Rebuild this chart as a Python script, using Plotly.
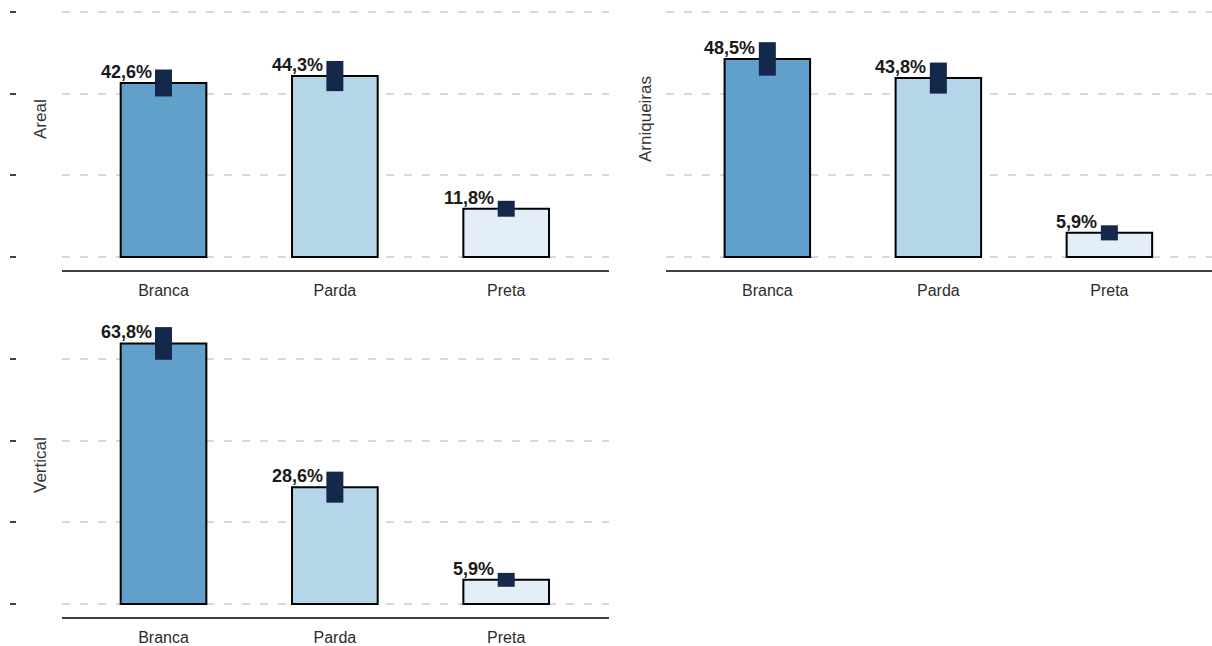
import plotly.graph_objects as go

categories = ["Branca", "Parda", "Preta"]
panels = ["Areal", "Arniqueiras", "Vertical"]
areal_values = [42.6, 44.3, 11.8]
areal_errors = [3.3, 3.7, 1.95]
arniqueiras_values = [48.5, 43.8, 5.9]
arniqueiras_errors = [4.1, 3.8, 1.85]
vertical_values = [63.8, 28.6, 5.9]
vertical_errors = [4.0, 3.8, 1.7]
y_tickvals = [0, 20, 40, 60]

bar_colors = ["#62a0cc", "#b5d6e9", "#e4eef8"]
err_color = "#14284b"
axis_color = "#4a3f35"
grid_color = "#d9d9d9"
FONT = "Liberation Sans, Arial, Helvetica, sans-serif"

W, H = 1212, 646

data = [
    (areal_values, areal_errors, "x", "y"),
    (arniqueiras_values, arniqueiras_errors, "x2", "y2"),
    (vertical_values, vertical_errors, "x3", "y3"),
]

fig = go.Figure()
annotations = []
for vals, errs, xa, ya in data:
    fig.add_trace(go.Bar(
        x=categories, y=vals, xaxis=xa, yaxis=ya, width=0.5,
        marker=dict(color=bar_colors, line=dict(color="#000000", width=2)),
        error_y=dict(type="data", array=errs, color=err_color, thickness=17, width=0, visible=True),
        showlegend=False, hoverinfo="skip",
    ))
    for c, v in zip(categories, vals):
        annotations.append(dict(
            x=c, y=v, xref=xa, yref=ya, xanchor="right", yanchor="bottom",
            xshift=-10, yshift=-1, showarrow=False,
            text=f"{v:.1f}".replace(".", ",") + "%",
            font=dict(family=FONT, size=18, color="#1a1a1a", weight="bold"),
        ))

title_pos = [(40, 119, "Areal"), (645, 119, "Arniqueiras"), (40, 465, "Vertical")]
for px, py, t in title_pos:
    annotations.append(dict(
        x=px / W, y=1 - py / H, xref="paper", yref="paper", text=t, textangle=-90,
        showarrow=False, xanchor="center", yanchor="middle",
        font=dict(family=FONT, size=17, color="#333333"),
    ))

left_dom = [62 / W, 609 / W]
right_dom = [666 / W, 1.0]
top_dom = [1 - 270 / H, 1.0]
bot_dom = [1 - 617 / H, 1 - 310 / H]
top_range = [-3.2, (270 - 0) / 4.083 - 3.2]
bot_range = [-3.2, (617 - 310) / 4.083 - 3.2]
xrange = [-0.5925, 2.6]

def xax(dom, anchor):
    return dict(domain=dom, anchor=anchor, range=xrange, showline=True, linecolor=axis_color,
                linewidth=2, ticks="", showgrid=False, zeroline=False, ticklabelstandoff=5,
                tickfont=dict(family=FONT, size=16, color="#2b2b2b"), fixedrange=True)

def yax(dom, rng, left):
    d = dict(domain=dom, range=rng, tickvals=y_tickvals, showticklabels=False,
             showgrid=True, gridcolor=grid_color, gridwidth=1.5, griddash="8px,10px",
             zeroline=False, showline=False, fixedrange=True)
    if left:
        d.update(anchor="free", position=16 / W, ticks="outside", ticklen=6, tickwidth=2,
                 tickcolor=axis_color)
    else:
        d.update(ticks="")
    return d

fig.update_layout(
    width=W, height=H, margin=dict(l=0, r=0, t=0, b=0),
    paper_bgcolor="white", plot_bgcolor="white",
    xaxis=xax(left_dom, "y"), yaxis=yax(top_dom, top_range, True),
    xaxis2=xax(right_dom, "y2"), yaxis2=dict(yax(top_dom, top_range, False), anchor="x2"),
    xaxis3=xax(left_dom, "y3"), yaxis3=yax(bot_dom, bot_range, True),
    annotations=annotations, bargap=0.5,
)

fig.write_html("out.html", config={"displayModeBar": False},
               post_script="document.body.style.margin='0';")
